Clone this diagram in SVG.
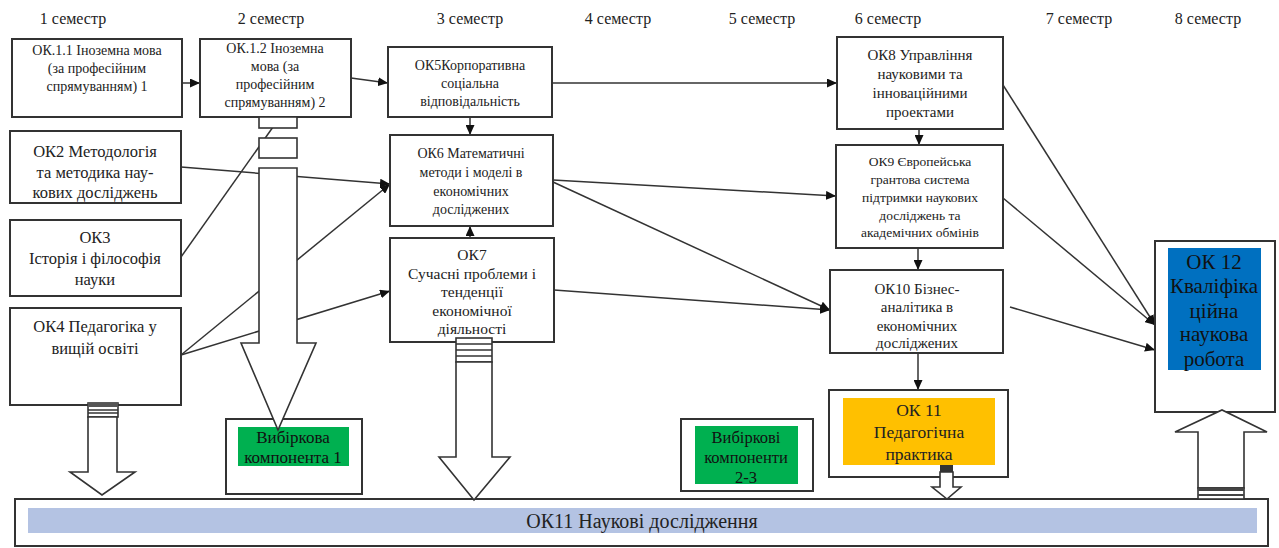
<svg xmlns="http://www.w3.org/2000/svg" width="1279" height="548" viewBox="0 0 1279 548">
<defs>
<marker id="ah" markerUnits="userSpaceOnUse" markerWidth="10" markerHeight="9" refX="10" refY="4.5" orient="auto">
<path d="M0,0 L10,4.5 L0,9 z" fill="#111"/>
</marker>
<style>
.box{fill:#fff;stroke:#333;stroke-width:2}
.t{font-family:'Liberation Serif','Times New Roman',serif;fill:#222;text-anchor:middle}
.c{fill:none;stroke:#333;stroke-width:1.5}
.ca{fill:none;stroke:#333;stroke-width:1.5;marker-end:url(#ah)}
.ha{fill:#fff;stroke:#333;stroke-width:1.6}
.st{fill:#fff;stroke:#333;stroke-width:1.6}
</style>
</defs>
<rect width="1279" height="548" fill="#fff"/>

<g id="semesters" class="t" font-family="Liberation Serif, serif" font-size="16">
<text x="73" y="24">1 семестр</text>
<text x="271" y="24">2 семестр</text>
<text x="470" y="24">3 семестр</text>
<text x="618" y="24">4 семестр</text>
<text x="762" y="24">5 семестр</text>
<text x="888" y="24">6 семестр</text>
<text x="1079" y="24">7 семестр</text>
<text x="1208" y="24">8 семестр</text>
</g>

<g id="connectors">
<line class="ca" x1="182" y1="83" x2="200" y2="83"/>
<line class="ca" x1="351" y1="78" x2="388" y2="83"/>
<line class="ca" x1="552" y1="83" x2="837" y2="83"/>
<line class="ca" x1="470" y1="117" x2="470" y2="135"/>
<line class="ca" x1="181" y1="167" x2="390" y2="184"/>
<line class="c" x1="181" y1="257" x2="273" y2="127"/>
<line class="ca" x1="181" y1="355" x2="390" y2="184"/>
<line class="ca" x1="181" y1="355" x2="390" y2="291"/>
<line class="ca" x1="470" y1="238" x2="470" y2="226"/>
<line class="ca" x1="553" y1="180" x2="836" y2="196"/>
<line class="ca" x1="553" y1="182" x2="830" y2="310"/>
<line class="ca" x1="554" y1="290" x2="830" y2="310"/>
<line class="ca" x1="919" y1="129" x2="919" y2="145"/>
<line class="ca" x1="918" y1="248" x2="918" y2="270"/>
<line class="ca" x1="918" y1="353" x2="918" y2="390"/>
<line class="ca" x1="1003" y1="85" x2="1155" y2="325"/>
<line class="ca" x1="1003" y1="198" x2="1155" y2="325"/>
<line class="ca" x1="1010" y1="307" x2="1155" y2="350"/>
</g>

<g id="ok11-research">
<rect class="box" x="15" y="499" width="1253" height="47"/>
<rect x="28" y="508" width="1229" height="25" fill="#b4c3e3"/>
<text class="t" font-family="Liberation Serif, serif" x="642" y="528" font-size="20">ОК11 Наукові дослідження</text>
</g>

<g id="ok1-1">
<rect class="box" x="12" y="39" width="170" height="78"/>
<g class="t" font-family="Liberation Serif, serif" font-size="14"><text x="97" y="55">ОК.1.1 Іноземна мова</text><text x="97" y="73">(за професійним</text><text x="97" y="91">спрямуванням) 1</text></g>
</g>
<g id="ok1-2">
<rect class="box" x="200" y="39" width="151" height="78"/>
<g class="t" font-family="Liberation Serif, serif" font-size="14"><text x="275" y="53">ОК.1.2 Іноземна</text><text x="275" y="71">мова (за</text><text x="275" y="89">професійним</text><text x="275" y="107">спрямуванням) 2</text></g>
</g>
<g id="ok5">
<rect class="box" x="388" y="47" width="164" height="70"/>
<g class="t" font-family="Liberation Serif, serif" font-size="14"><text x="470" y="70">ОК5Корпоративна</text><text x="470" y="88">соціальна</text><text x="470" y="106">відповідальність</text></g>
</g>
<g id="ok2">
<rect class="box" x="10" y="131" width="171" height="72"/>
<g class="t" font-family="Liberation Serif, serif" font-size="16.5"><text x="95" y="157">ОК2 Методологія</text><text x="95" y="178">та методика нау-</text><text x="95" y="198">кових досліджень</text></g>
</g>
<g id="ok3">
<rect class="box" x="10" y="220" width="171" height="76"/>
<g class="t" font-family="Liberation Serif, serif" font-size="16.5"><text x="95" y="243">ОК3</text><text x="95" y="264">Історія і філософія</text><text x="95" y="285">науки</text></g>
</g>
<g id="ok4">
<rect class="box" x="10" y="308" width="171" height="97"/>
<g class="t" font-family="Liberation Serif, serif" font-size="16.5"><text x="95" y="332">ОК4 Педагогіка у</text><text x="95" y="354">вищій освіті</text></g>
</g>
<g id="ok6">
<rect class="box" x="390" y="135" width="163" height="91"/>
<g class="t" font-family="Liberation Serif, serif" font-size="14"><text x="471" y="158">ОК6 Математичні</text><text x="471" y="177">методи і моделі в</text><text x="471" y="196">економічних</text><text x="471" y="214">досліджених</text></g>
</g>
<g id="ok7">
<rect class="box" x="390" y="238" width="164" height="104"/>
<g class="t" font-family="Liberation Serif, serif" font-size="15.5"><text x="472" y="260">ОК7</text><text x="472" y="279">Сучасні проблеми і</text><text x="472" y="297">тенденції</text><text x="472" y="316">економічної</text><text x="472" y="334">діяльності</text></g>
</g>
<g id="ok8">
<rect class="box" x="837" y="37" width="166" height="92"/>
<g class="t" font-family="Liberation Serif, serif" font-size="15"><text x="920" y="60">ОК8 Управління</text><text x="920" y="79">науковими та</text><text x="920" y="98">інноваційними</text><text x="920" y="117">проектами</text></g>
</g>
<g id="ok9">
<rect class="box" x="836" y="145" width="167" height="103"/>
<g class="t" font-family="Liberation Serif, serif" font-size="13.5"><text x="920" y="166">ОК9 Європейська</text><text x="920" y="184">грантова система</text><text x="920" y="202">підтримки наукових</text><text x="920" y="220">досліджень та</text><text x="920" y="237">академічних обмінів</text></g>
</g>
<g id="ok10">
<rect class="box" x="830" y="270" width="173" height="83"/>
<g class="t" font-family="Liberation Serif, serif" font-size="15"><text x="917" y="294">ОК10 Бізнес-</text><text x="917" y="312">аналітика в</text><text x="917" y="331">економічних</text><text x="917" y="348">досліджених</text></g>
</g>
<g id="ok11-practice">
<rect class="box" x="829" y="390" width="179" height="87"/>
<rect x="843" y="398" width="152" height="67" fill="#ffc000"/>
<g class="t" font-family="Liberation Serif, serif" font-size="17.5"><text x="919" y="416">ОК 11</text><text x="919" y="438">Педагогічна</text><text x="919" y="460">практика</text></g>
</g>
<g id="ok12">
<rect class="box" x="1155" y="241" width="120" height="171"/>
<rect x="1168" y="248" width="93" height="122" fill="#0070c0"/>
<g class="t" font-family="Liberation Serif, serif" font-size="21" style="fill:#111"><text x="1214" y="269">ОК 12</text><text x="1214" y="293">Кваліфіка</text><text x="1214" y="318">ційна</text><text x="1214" y="341">наукова</text><text x="1214" y="366">робота</text></g>
</g>
<g id="elective-1">
<rect class="box" x="226" y="419" width="136" height="75"/>
<rect x="238" y="427" width="111" height="39" fill="#00b050"/>
<g class="t" font-family="Liberation Serif, serif" font-size="17" style="fill:#111"><text x="293" y="443">Вибіркова</text><text x="293" y="463">компонента 1</text></g>
</g>
<g id="elective-2-3">
<rect class="box" x="681" y="419" width="132" height="72"/>
<rect x="695" y="426" width="103" height="58" fill="#00b050"/>
<g class="t" font-family="Liberation Serif, serif" font-size="16.5" style="fill:#111"><text x="746" y="443">Вибіркові</text><text x="746" y="463">компоненти</text><text x="746" y="483">2-3</text></g>
</g>

<g id="block-arrows">
<rect class="st" x="259" y="117" width="38" height="11"/>
<rect class="st" x="259" y="138" width="38" height="20"/>
<polygon class="ha" points="259,168 297,168 297,343 316,343 278,430 241,343 259,343"/>

<rect class="st" x="88" y="403" width="30" height="14"/>
<rect x="88" y="403" width="30" height="4" fill="#555"/>
<line class="c" x1="88" y1="410" x2="118" y2="410"/>
<line class="c" x1="88" y1="413" x2="118" y2="413"/>
<polygon class="ha" points="88,417 117,417 117,472 135,472 102,495 70,472 88,472"/>

<rect class="st" x="456" y="338" width="36" height="24"/>
<line class="c" x1="456" y1="344" x2="492" y2="344"/>
<line class="c" x1="456" y1="350" x2="492" y2="350"/>
<line class="c" x1="456" y1="356" x2="492" y2="356"/>
<polygon class="ha" points="456,362 492,362 492,457 510,457 474,500 439,457 456,457"/>

<rect x="940" y="465" width="13" height="7" fill="#333"/>
<polygon class="ha" points="940,472 953,472 953,487 961,487 947,499 932,487 940,487"/>

<polygon class="ha" points="1198,488 1198,432 1175,432 1222,410 1267,432 1244,432 1244,488"/>
<rect class="st" x="1198" y="488" width="46" height="11"/>
<rect x="1198" y="488" width="46" height="3" fill="#444"/>
<rect x="1198" y="494" width="46" height="2" fill="#444"/>
</g>
</svg>
